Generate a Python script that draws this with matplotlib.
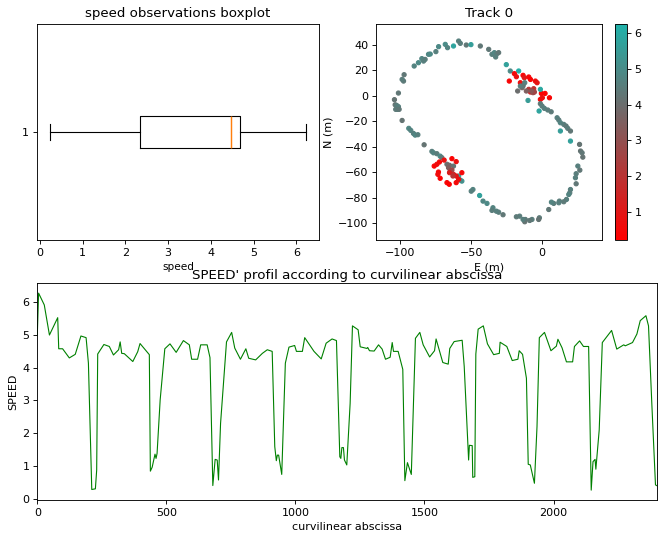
import matplotlib
matplotlib.use("Agg")
import matplotlib.pyplot as plt
import numpy as np
from matplotlib.colors import LinearSegmentedColormap

# ---------------- data ----------------
# boxplot statistics of speed observations
box_whislo = 0.23
box_q1 = 2.33
box_med = 4.46
box_q3 = 4.69
box_whishi = 6.23

# Track points (E, N) and speed
track_E = [-101.2, -97.6, -98.6, -97.2, -104.0, -103.5, -102.4, -101.2, -101.9, -103.1, -100.7,
           -98.6, -93.9, -92.5, -90.6, -89.4, -87.5, -83.1, -77.6, -76.5, -74.1, -71.8,
           -90.1, -87.1, -84.7, -82.4, -83.5, -80.0, -78.8, -74.8, -72.9, -68.2, -66.6, -62.4,
           -58.8, -57.6, -53.4, -50.1, -43.5, -37.6, -35.3, -33.6, -31.8, -30.6, -32.7, -25.2,
           -22.4, -16.5,
           -23.1, -19.5, -18.1, -15.3, -13.4, -12.5, -13.4, -9.4, -8.2, -4.7, -3.5, -9.4, -5.9,
           -0.5, -1.2, 0.2, 2.1, 5.2, -8.2,
           -17.2, -14.1, -13.4, -11.1, -6.4, -5.4, -7.5, -15.3, -12.2,
           -1.2, -9.9, -2.1,
           -1.2, 0.0, 1.6, 4.0, 6.4, 10.6, 11.8, 12.9, 15.3, 16.9, 18.1, 20.0, 12.9, 20.0,
           26.4, 27.1, 28.2, 28.7, 25.2, 26.6, 24.0, 23.5, 24.0, 20.0, 19.5, 18.8, 17.2, 15.3,
           12.2, 11.8, 8.2, 6.6, 4.7, -1.9, -2.4, -7.1, -8.7, -11.8, -12.2, -13.4, -15.8, -18.1,
           -27.5, -30.6, -32.2, -34.6, -35.3, -38.8, -41.6, -44.0, -48.7, -49.9,
           -70.6, -67.0, -65.2, -62.4, -65.9, -64.7, -63.5,
           -58.8, -56.5, -57.7,
           -76.0, -74.1, -72.3, -69.0, -63.5, -60.5, -73.0, -73.4, -71.8, -65.2, -62.4, -60.5,
           -56.5, -67.0, -65.4, -60.5, -58.8, -62.8]
track_N = [2.3, 11.7, 13.0, 16.7, -2.9, -6.9, -7.4, -8.4, -10.5, -10.5, -10.5,
           -19.2, -25.4, -27.0, -29.4, -30.7, -30.4, -38.3, -43.5, -44.6, -45.3, -47.2,
           23.5, 26.1, 29.3, 28.7, 27.4, 32.7, 32.9, 34.8, 38.7, 40.5, 37.9, 39.2,
           43.1, 41.3, 40.0, 40.3, 39.2, 36.6, 32.7, 34.0, 33.2, 34.0, 30.6, 24.6,
           19.6, 19.6,
           11.7, 17.5, 15.1, 10.4, 16.2, 14.3, 9.1, 14.9, 13.0, 11.7, 10.4, 5.2, 5.7,
           2.0, -2.7, -1.4, 2.0, -1.4, 3.1,
           3.9, 6.5, 7.8, 3.9, 2.6, 3.1, 3.9, 7.8, 10.4,
           5.2, -3.5, -11.8,
           -6.1, -7.9, -9.7, -11.0, -12.4, -17.1, -18.9, -21.0, -22.3, -23.6, -25.4, -27.5, -27.5, -35.4,
           -38.0, -43.2, -44.6, -48.0, -55.0, -58.2, -61.0, -64.2, -68.9, -73.4, -76.0, -77.3, -81.2, -83.0,
           -82.5, -83.8, -84.3, -83.3, -89.1, -95.6, -96.9, -96.9, -97.7, -96.9, -98.7, -96.9, -94.3, -94.8,
           -93.2, -91.2, -90.4, -87.7, -89.8, -84.3, -82.5, -78.1, -73.4, -74.7,
           -48.4, -53.6, -54.4, -55.0, -56.3, -58.9, -58.1,
           -62.8, -66.8, -66.0,
           -55.0, -53.6, -51.8, -50.3, -49.2, -51.5, -59.7, -61.5, -64.6, -60.2, -61.5, -62.8,
           -60.2, -68.0, -69.3, -68.0, -65.4, -62.8]
track_speed = [4.3, 4.4, 4.5, 4.3, 4.2, 4.2, 4.5, 4.6, 4.7, 4.4, 4.3,
               4.2, 4.8, 4.7, 4.6, 4.8, 4.6, 4.2, 4.6, 4.7, 4.5, 4.9,
               4.7, 4.9, 4.8, 4.5, 4.6, 4.8, 4.9, 4.6, 4.9, 5.0, 4.7, 5.8,
               4.6, 4.5, 4.3, 5.6, 4.3, 4.3, 4.6, 4.8, 4.5, 4.3, 4.6, 5.7,
               4.9, 6.1,
               0.4, 0.5, 0.8, 0.6, 0.4, 1.0, 1.2, 0.5, 0.3, 0.6, 0.9, 2.0, 1.8,
               0.4, 0.5, 0.7, 0.3, 0.4, 1.4,
               4.0, 3.8, 4.3, 3.5, 3.0, 2.6, 3.2, 4.5, 4.6,
               5.9, 5.5, 5.8,
               4.4, 4.5, 4.6, 4.5, 4.4, 4.6, 4.5, 4.7, 4.6, 4.4, 4.5, 4.3, 5.6, 5.7,
               4.2, 4.2, 4.3, 4.2, 4.6, 4.3, 4.5, 4.6, 4.3, 4.6, 4.5, 4.7, 4.6, 4.4,
               4.5, 4.6, 4.5, 4.7, 4.3, 4.4, 4.2, 4.5, 4.3, 4.4, 4.2, 4.6, 4.5, 4.4,
               4.3, 4.5, 4.6, 4.7, 4.5, 4.9, 4.8, 5.7, 4.7, 4.6,
               4.4, 4.0, 3.8, 4.2, 3.5, 3.0, 2.8,
               5.8, 5.2, 5.0,
               0.4, 0.6, 0.5, 0.8, 0.3, 0.7, 0.4, 0.6, 0.3, 1.2, 1.5, 0.9,
               0.5, 0.4, 0.3, 0.5, 0.8, 2.0]

# speed profile along curvilinear abscissa
abscissa = [0, 5, 27, 47, 79, 83, 98, 124, 147, 169, 189, 198, 211, 225, 230, 234, 258, 279, 295,
            315, 321, 327, 337, 370, 389, 398, 434, 438, 445, 456, 460, 464, 476, 494, 514, 538,
            566, 589, 598, 621, 633, 658, 669, 680, 689, 697, 702, 710, 733, 753, 765, 787, 808,
            819, 846, 872, 891, 910, 920, 926, 930, 935, 947, 961, 975, 997, 1004, 1027, 1036,
            1072, 1100, 1119, 1142, 1159, 1172, 1176, 1180, 1186, 1190, 1199, 1212, 1221, 1243,
            1251, 1277, 1280, 1287, 1305, 1322, 1336, 1349, 1367, 1375, 1380, 1398, 1416, 1424,
            1434, 1449, 1465, 1482, 1495, 1520, 1539, 1545, 1557, 1571, 1592, 1598, 1615, 1646,
            1654, 1671, 1674, 1685, 1687, 1695, 1699, 1708, 1728, 1744, 1768, 1790, 1793, 1819,
            1840, 1862, 1867, 1880, 1895, 1902, 1910, 1926, 1936, 1945, 1965, 1990, 2011, 2017,
            2033, 2050, 2074, 2081, 2101, 2116, 2136, 2146, 2153, 2161, 2164, 2177, 2189, 2225,
            2245, 2272, 2278, 2306, 2323, 2336, 2358, 2368, 2381, 2395, 2402]
profile_speed = [5.0, 6.28, 5.92, 5.0, 5.53, 4.58, 4.58, 4.30, 4.41, 4.97, 4.92, 4.14, 0.28, 0.30,
                 0.87, 4.42, 4.71, 4.65, 4.39, 4.55, 4.79, 4.44, 4.43, 4.19, 4.49, 4.74, 4.40, 0.84,
                 0.96, 1.36, 1.23, 1.38, 3.02, 4.58, 4.73, 4.47, 4.83, 4.70, 4.26, 4.26, 4.70, 4.70,
                 4.31, 0.40, 1.20, 1.18, 0.57, 2.30, 4.79, 5.08, 4.6, 4.26, 4.58, 4.29, 4.24, 4.44,
                 4.55, 4.50, 1.59, 1.16, 1.33, 1.33, 0.74, 4.14, 4.63, 4.68, 4.50, 4.50, 4.92, 4.50,
                 4.27, 4.75, 4.88, 4.83, 1.28, 1.23, 1.56, 1.56, 1.18, 1.03, 2.91, 5.28, 5.16, 4.64,
                 4.59, 4.62, 4.52, 4.51, 4.70, 4.57, 4.26, 4.32, 4.77, 4.50, 4.50, 3.95, 0.55, 1.10,
                 0.74, 4.90, 5.08, 4.70, 4.33, 4.52, 4.88, 4.55, 4.16, 4.11, 4.59, 4.8, 4.84, 4.04,
                 1.18, 1.63, 1.62, 0.65, 0.67, 4.42, 5.18, 5.28, 4.73, 4.40, 4.44, 4.78, 4.65, 4.22,
                 4.26, 4.52, 4.41, 3.68, 1.05, 1.03, 0.47, 2.20, 4.92, 5.08, 4.52, 4.66, 4.87, 4.61,
                 4.18, 4.18, 4.65, 4.82, 4.65, 4.65, 0.26, 1.13, 1.20, 0.90, 2.1, 4.77, 5.14, 4.57,
                 4.70, 4.67, 4.77, 5.03, 5.44, 5.59, 5.28, 2.87, 0.42, 0.39]

speed_min = 0.22
speed_max = 6.25

# ---------------- figure ----------------
DPI = 80
fig = plt.figure(figsize=(665 / DPI, 540 / DPI), dpi=DPI)

ax_box = fig.add_axes([0.0556, 0.5556, 0.424, 0.400])
ax_trk = fig.add_axes([0.5654, 0.5556, 0.3394, 0.400])
ax_cb = fig.add_axes([0.9255, 0.5556, 0.0168, 0.400])
ax_prof = fig.add_axes([0.0561, 0.0741, 0.9323, 0.4013])

# boxplot
stats = [dict(whislo=box_whislo, q1=box_q1, med=box_med, q3=box_q3, whishi=box_whishi,
              fliers=[])]
ax_box.bxp(stats, orientation='horizontal',
           medianprops=dict(color="#ff7f0e", linewidth=1.3))
ax_box.set_title("speed observations boxplot")
ax_box.set_xlabel("speed", fontsize=9.5, labelpad=4)

# track scatter
cmap = LinearSegmentedColormap.from_list(
    "speedmap", [(0.0, "#ff0000"), (0.62, "#6c6c6c"), (1.0, "#20b2aa")])
sc = ax_trk.scatter(track_E, track_N, c=track_speed, cmap=cmap, s=14,
                    vmin=speed_min, vmax=speed_max)
ax_trk.set_xlim(-117, 42)
ax_trk.set_ylim(-113, 56.5)
ax_trk.set_title("Track 0")
ax_trk.set_xlabel("E (m)", labelpad=4)
ax_trk.set_ylabel("N (m)", labelpad=4)
fig.colorbar(sc, cax=ax_cb)

# profile
ax_prof.plot(abscissa, profile_speed, color="green", linewidth=1.0)
ax_prof.set_xlim(0, max(abscissa))
ax_prof.set_title("SPEED' profil according to curvilinear abscissa", pad=4)
ax_prof.set_xlabel("curvilinear abscissa")
ax_prof.set_ylabel("SPEED")

fig.savefig("out.png", dpi=DPI)
